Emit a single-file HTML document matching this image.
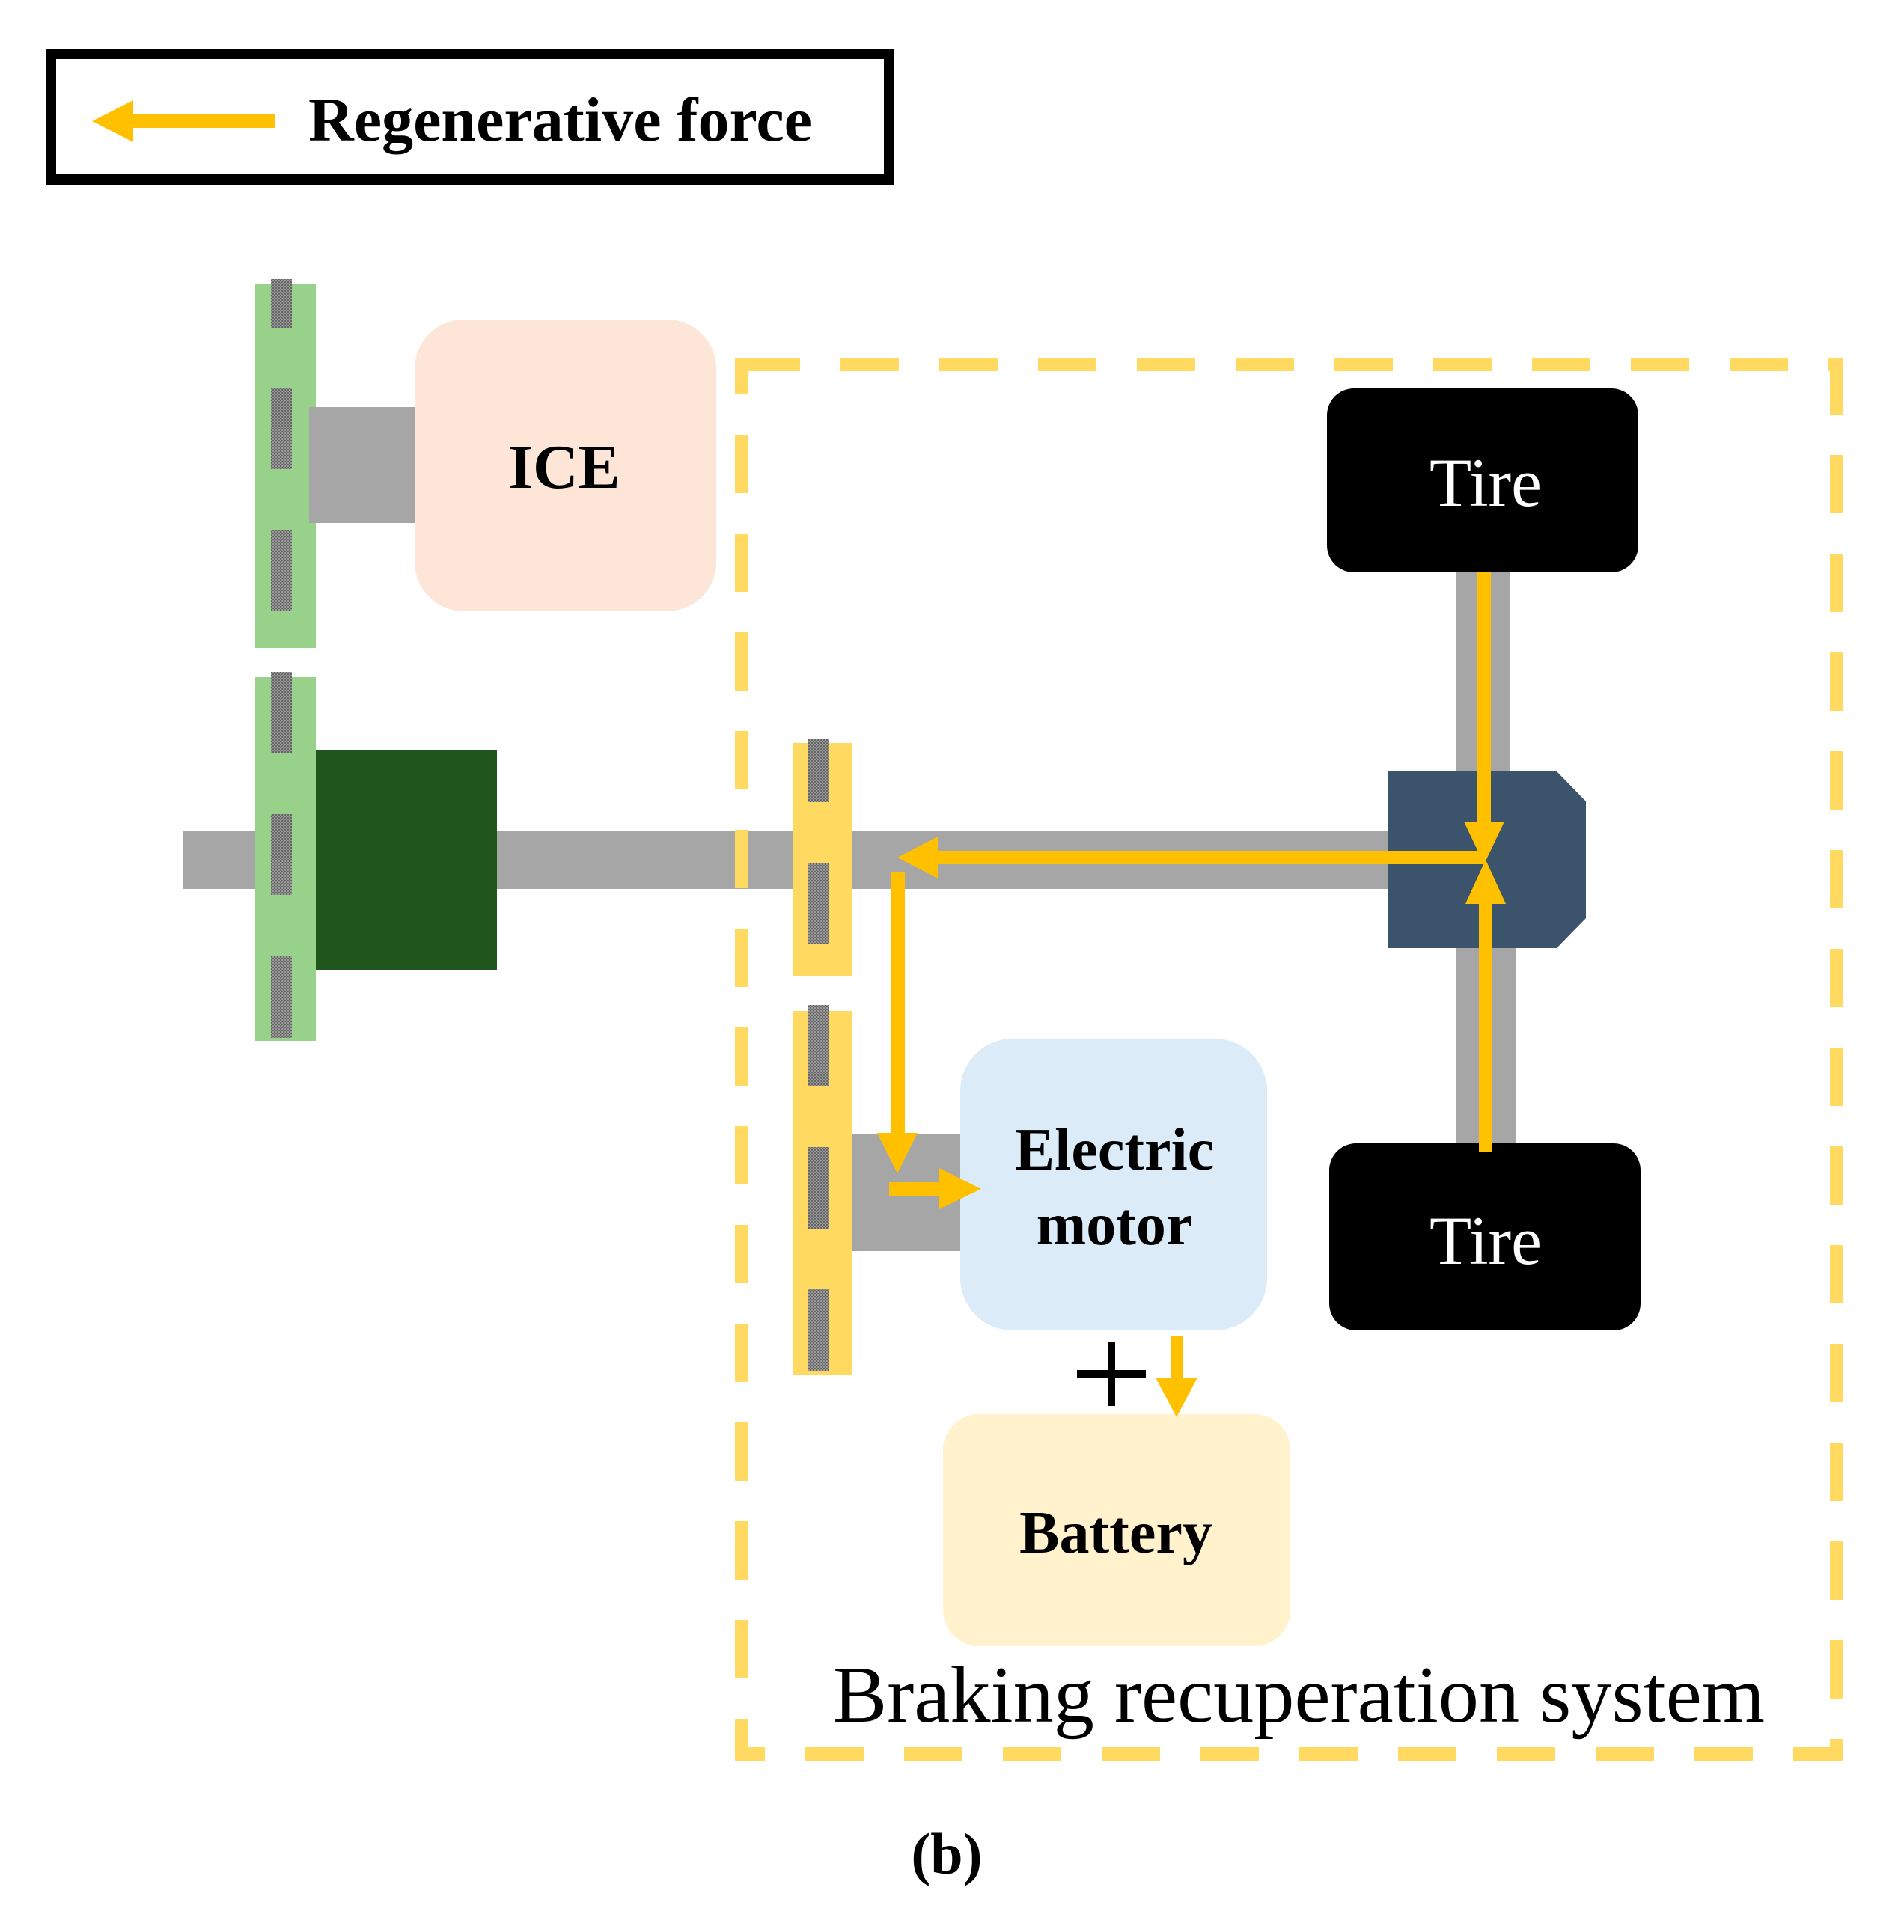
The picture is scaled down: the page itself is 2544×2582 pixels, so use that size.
<!DOCTYPE html>
<html><head><meta charset="utf-8"><style>html,body{margin:0;padding:0;background:#fff}svg{display:block}</style></head>
<body>
<svg width="2544" height="2582" viewBox="0 0 2544 2582" xmlns="http://www.w3.org/2000/svg">
<defs>
<pattern id="h" width="4" height="4" patternUnits="userSpaceOnUse"><rect width="4" height="4" fill="#9a9a9a"/><rect width="2" height="2" fill="#666"/><rect x="2" y="2" width="2" height="2" fill="#666"/></pattern>
</defs>
<rect width="2544" height="2582" fill="#fff"/>
<!-- legend -->
<rect x="68" y="72" width="1120" height="168" fill="none" stroke="#000" stroke-width="14"/>
<rect x="175" y="153" width="192" height="18" fill="#FFC000"/>
<polygon points="123,162 178,134 178,190" fill="#FFC000"/>
<text x="412" y="188" font-family="Liberation Serif, serif" font-weight="bold" font-size="84" textLength="673" lengthAdjust="spacingAndGlyphs">Regenerative force</text>

<!-- shaft -->
<rect x="244" y="1110" width="1620" height="78" fill="#A6A6A6"/>

<!-- dashed system rect -->
<rect x="991" y="487" width="1463" height="1857" fill="none" stroke="#FFD960" stroke-width="18" stroke-dasharray="78 54"/>

<!-- gray vertical axles -->
<rect x="1945" y="760" width="72" height="280" fill="#A6A6A6"/>
<rect x="1945" y="1260" width="80" height="280" fill="#A6A6A6"/>

<!-- green bars -->
<rect x="341" y="379" width="81" height="487" fill="#98D28A"/>
<rect x="362" y="373" width="28" height="65" fill="url(#h)"/>
<rect x="362" y="518" width="28" height="109" fill="url(#h)"/>
<rect x="362" y="708" width="28" height="109" fill="url(#h)"/>
<rect x="413" y="544" width="145" height="155" fill="#A6A6A6"/>
<rect x="554" y="427" width="403" height="390" rx="66" fill="#FDE6D8"/>
<text x="754" y="652" text-anchor="middle" font-family="Liberation Serif, serif" font-weight="bold" font-size="84">ICE</text>

<rect x="341" y="905" width="81" height="486" fill="#98D28A"/>
<rect x="362" y="898" width="28" height="109" fill="url(#h)"/>
<rect x="362" y="1088" width="28" height="108" fill="url(#h)"/>
<rect x="362" y="1278" width="28" height="109" fill="url(#h)"/>
<rect x="422" y="1002" width="242" height="294" fill="#20561B"/>

<!-- yellow bars -->
<rect x="1059" y="993" width="80" height="311" fill="#FFD960"/>
<rect x="1080" y="987" width="27" height="85" fill="url(#h)"/>
<rect x="1080" y="1153" width="27" height="109" fill="url(#h)"/>
<rect x="1059" y="1351" width="80" height="487" fill="#FFD960"/>
<rect x="1080" y="1343" width="27" height="109" fill="url(#h)"/>
<rect x="1080" y="1533" width="27" height="109" fill="url(#h)"/>
<rect x="1080" y="1723" width="27" height="109" fill="url(#h)"/>

<!-- motor connector -->
<rect x="1138" y="1516" width="146" height="156" fill="#A6A6A6"/>
<rect x="1283" y="1388" width="410" height="390" rx="70" fill="#DBEBF7"/>
<text x="1489" y="1563" text-anchor="middle" font-family="Liberation Serif, serif" font-weight="bold" font-size="80">Electric</text>
<text x="1489" y="1663" text-anchor="middle" font-family="Liberation Serif, serif" font-weight="bold" font-size="80">motor</text>

<!-- differential -->
<polygon points="1854,1031 2080,1031 2119,1071 2119,1227 2080,1267 1854,1267" fill="#3B536B"/>

<!-- tires -->
<rect x="1773" y="519" width="416" height="246" rx="36" fill="#000"/>
<text x="1985" y="676" text-anchor="middle" font-family="Liberation Serif, serif" font-size="92" fill="#fff">Tire</text>
<rect x="1776" y="1528" width="416" height="250" rx="36" fill="#000"/>
<text x="1985" y="1689" text-anchor="middle" font-family="Liberation Serif, serif" font-size="92" fill="#fff">Tire</text>

<!-- battery -->
<rect x="1260" y="1890" width="464" height="310" rx="48" fill="#FFF2CC"/>
<text x="1491" y="2075" text-anchor="middle" font-family="Liberation Serif, serif" font-weight="bold" font-size="80">Battery</text>

<!-- plus -->
<rect x="1439" y="1831" width="92" height="10" fill="#000"/>
<rect x="1480" y="1793" width="10" height="86" fill="#000"/>

<!-- yellow arrows -->
<g fill="#FFC000">
<rect x="1250" y="1137" width="735" height="18"/>
<polygon points="1199,1146 1253,1118 1253,1174"/>
<rect x="1974" y="765" width="18" height="340"/>
<polygon points="1983,1155 1956,1098 2010,1098"/>
<rect x="1976" y="1200" width="18" height="340"/>
<polygon points="1985,1149 1958,1208 2012,1208"/>
<rect x="1190" y="1166" width="19" height="352"/>
<polygon points="1199,1568 1172,1514 1226,1514"/>
<rect x="1188" y="1580" width="70" height="18"/>
<polygon points="1311,1589 1255,1561 1255,1616"/>
<rect x="1564" y="1785" width="16" height="60"/>
<polygon points="1572,1894 1544,1841 1600,1841"/>
</g>

<text x="1113" y="2301" font-family="Liberation Serif, serif" font-size="108" textLength="1245" lengthAdjust="spacingAndGlyphs">Braking recuperation system</text>
<text x="1265" y="2504" text-anchor="middle" font-family="Liberation Serif, serif" font-weight="bold" font-size="78">(b)</text>
</svg>
</body></html>
